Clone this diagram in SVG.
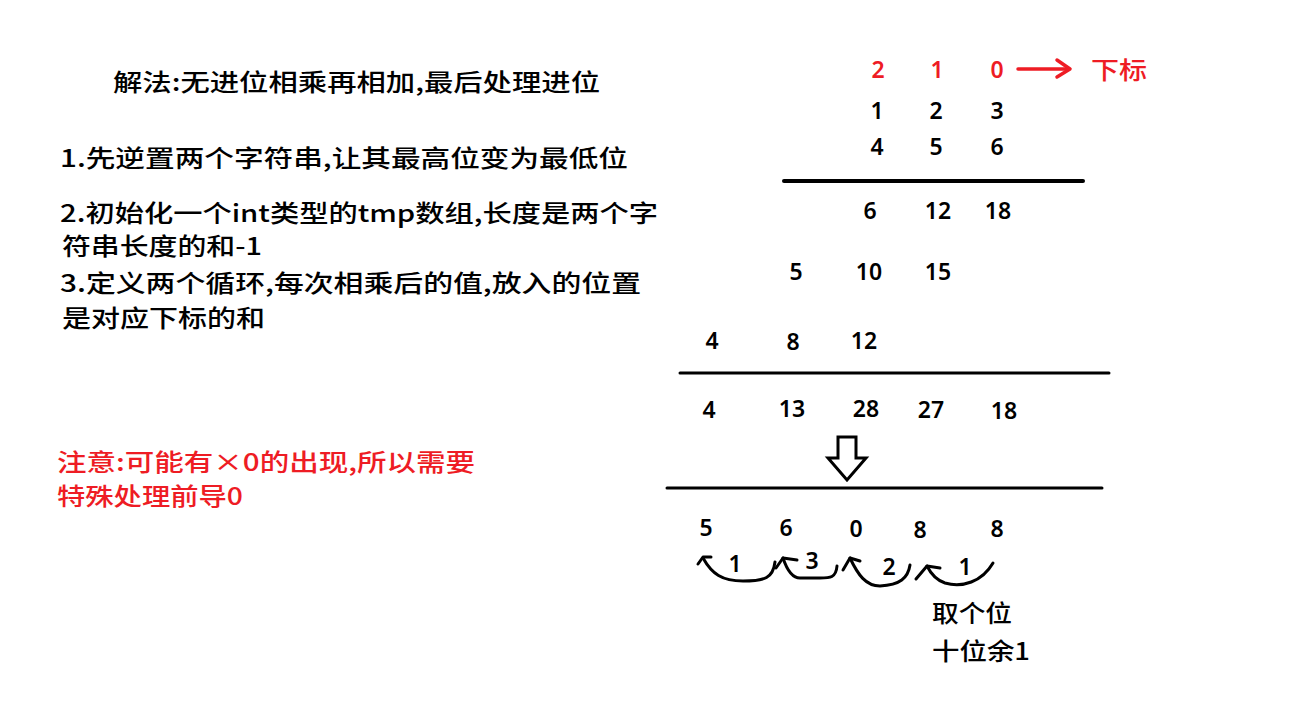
<svg xmlns="http://www.w3.org/2000/svg" width="1312" height="705" viewBox="0 0 1312 705">
<style>
.t{font-family:"Noto Sans CJK SC","Noto Sans",sans-serif;font-size:24px;font-weight:500;fill:#000}
.n{font-family:"Noto Sans","Noto Sans CJK SC",sans-serif;font-size:23px;font-weight:600;text-anchor:middle;fill:#000}
.r{fill:#ee1c24}
.bar{stroke:#000;stroke-linecap:round;fill:none}
.hand{stroke:#000;stroke-width:3;fill:none;stroke-linecap:round;stroke-linejoin:round}
</style>
<rect width="1312" height="705" fill="#fff"/>
<g id="notes">
<text class="t" x="113" y="91" textLength="487" lengthAdjust="spacingAndGlyphs">解法:无进位相乘再相加,最后处理进位</text>
<text class="t" x="60" y="167" textLength="568" lengthAdjust="spacingAndGlyphs">1.先逆置两个字符串,让其最高位变为最低位</text>
<text class="t" x="60" y="222" textLength="598" lengthAdjust="spacingAndGlyphs">2.初始化一个int类型的tmp数组,长度是两个字</text>
<text class="t" x="62" y="255" textLength="200" lengthAdjust="spacingAndGlyphs">符串长度的和-1</text>
<text class="t" x="60" y="292" textLength="581" lengthAdjust="spacingAndGlyphs">3.定义两个循环,每次相乘后的值,放入的位置</text>
<text class="t" x="62" y="327" textLength="203" lengthAdjust="spacingAndGlyphs">是对应下标的和</text>
<text class="t r" x="57" y="471" textLength="418" lengthAdjust="spacingAndGlyphs">注意:可能有×0的出现,所以需要</text>
<text class="t r" x="57" y="505" textLength="186" lengthAdjust="spacingAndGlyphs">特殊处理前导0</text>
</g>
<g id="index-row">
<text class="n r" x="878" y="78">2</text>
<text class="n r" x="937" y="78">1</text>
<text class="n r" x="997" y="78">0</text>
<text class="t r" x="1091" y="79" textLength="56" lengthAdjust="spacingAndGlyphs">下标</text>
</g>
<g id="operands">
<text class="n" x="877" y="119">1</text>
<text class="n" x="936" y="119">2</text>
<text class="n" x="997" y="119">3</text>
<text class="n" x="877" y="155">4</text>
<text class="n" x="936" y="155">5</text>
<text class="n" x="997" y="155">6</text>
</g>
<g id="partials">
<text class="n" x="870" y="219">6</text>
<text class="n" x="938" y="219">12</text>
<text class="n" x="998" y="219">18</text>
<text class="n" x="796" y="280">5</text>
<text class="n" x="869" y="280">10</text>
<text class="n" x="938" y="280">15</text>
<text class="n" x="712" y="349">4</text>
<text class="n" x="793" y="350">8</text>
<text class="n" x="864" y="349">12</text>
</g>
<g id="sums">
<text class="n" x="709" y="418">4</text>
<text class="n" x="792" y="417">13</text>
<text class="n" x="866" y="417">28</text>
<text class="n" x="931" y="418">27</text>
<text class="n" x="1004" y="419">18</text>
</g>
<g id="result">
<text class="n" x="706" y="536">5</text>
<text class="n" x="786" y="536">6</text>
<text class="n" x="856" y="537">0</text>
<text class="n" x="920" y="538">8</text>
<text class="n" x="997" y="537">8</text>
<text class="n" x="735" y="572">1</text>
<text class="n" x="812" y="569">3</text>
<text class="n" x="889" y="575" font-size="18">2</text>
<text class="n" x="965" y="575" font-size="18">1</text>
<text class="t" x="932" y="622" textLength="80" lengthAdjust="spacingAndGlyphs">取个位</text>
<text class="t" x="932" y="660" textLength="98" lengthAdjust="spacingAndGlyphs">十位余1</text>
</g>
<g id="connectors">
<line x1="1018" y1="69" x2="1068" y2="69" stroke="#ee1c24" stroke-width="3.5" stroke-linecap="round"/>
<polyline points="1057,60 1070,69 1057,77" fill="none" stroke="#ee1c24" stroke-width="3.5" stroke-linecap="round" stroke-linejoin="round"/>
<line class="bar" x1="784" y1="181" x2="1083" y2="181" stroke-width="4"/>
<line class="bar" x1="680" y1="373" x2="1109" y2="373" stroke-width="3"/>
<line class="bar" x1="667" y1="488" x2="1102" y2="488" stroke-width="3"/>
<polygon points="838,437 856,437 856,458 866,458 847,480 828,458 838,458" fill="#fff" stroke="#000" stroke-width="3" stroke-linejoin="miter"/>
<path class="hand" d="M993,563 C982,582 962,588 945,583 C936,580 931,574 927,566"/>
<polyline class="hand" points="916,579 927,566 940,568"/>
<path class="hand" d="M910,565 C908,578 900,585 880,586 C866,586 858,575 850,558"/>
<polyline class="hand" points="843,570 850,558 860,561"/>
<path class="hand" d="M837,566 C836,578 830,578 820,578 L800,578 C792,578 787,570 783,558"/>
<polyline class="hand" points="776,568 783,558 797,560"/>
<path class="hand" d="M775,562 C773,578 765,581 743,581 C722,581 712,574 703,558"/>
<polyline class="hand" points="698,564 703,557 711,557"/>
</g>
</svg>
